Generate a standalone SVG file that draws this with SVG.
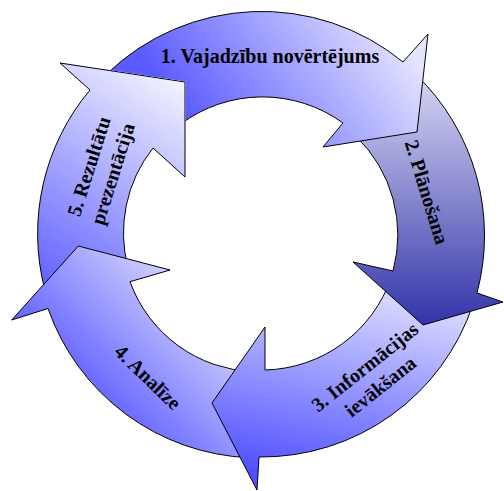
<svg xmlns="http://www.w3.org/2000/svg" width="504" height="491" viewBox="0 0 504 491">
<style>
.arr{stroke:#000;stroke-width:1;stroke-linejoin:miter}
.lbl{font-family:"Liberation Serif","Times New Roman",serif;font-weight:bold;font-size:20px;fill:#000;text-anchor:middle}
</style>
<defs>
<linearGradient id="g1" gradientUnits="userSpaceOnUse" x1="200" y1="140" x2="380" y2="10"><stop offset="0" stop-color="#5a5aff"/><stop offset="1" stop-color="#e4e4ff"/></linearGradient>
<linearGradient id="g2" gradientUnits="userSpaceOnUse" x1="0" y1="80" x2="0" y2="330"><stop offset="0" stop-color="#d4d4f2"/><stop offset="1" stop-color="#3030a8"/></linearGradient>
<linearGradient id="g3" gradientUnits="userSpaceOnUse" x1="330" y1="290" x2="290" y2="480"><stop offset="0" stop-color="#d4d4ff"/><stop offset="1" stop-color="#5050ff"/></linearGradient>
<linearGradient id="g4" gradientUnits="userSpaceOnUse" x1="60" y1="400" x2="190" y2="270"><stop offset="0" stop-color="#5050ff"/><stop offset="1" stop-color="#dcdcff"/></linearGradient>
<linearGradient id="g5" gradientUnits="userSpaceOnUse" x1="40" y1="280" x2="175" y2="80"><stop offset="0" stop-color="#6464ff"/><stop offset="1" stop-color="#f2f2ff"/></linearGradient>
<clipPath id="c1"><path clip-rule="evenodd" d="M0 0H504V491H0Z M59.5 62.5 L185.6 81.6 L185.6 177.5 L152.6 148.3 L89.6 90.4 Z"/></clipPath>
</defs>
<g id="arrow5">
<path class="arr" fill="url(#g5)" d="M44.6 288.9 A223 223 0 0 1 90 90 L60 63 L185 82 L185 177 L153 148 A137 137 0 0 0 128.1 268.1 Z"/>
</g>
<g id="arrow4">
<path class="arr" fill="url(#g4)" d="M249.3 457.7 A223 223 0 0 1 48 308.5 L11.7 320 L78.3 246 L170 270 L130 281.7 A137 137 0 0 0 253.8 371.8 Z"/>
</g>
<g id="arrow3">
<path class="arr" fill="url(#g3)" d="M473.1 303.9 A223 223 0 0 1 259 457 L257 490 L212 403 L265 327 L265 370 A137 137 0 0 0 391.3 277.3 Z"/>
</g>
<g id="arrow2">
<path class="arr" fill="url(#g2)" d="M415.9 74.6 A223 223 0 0 1 477 293 L503 302 L423 325 L353 262 L393 271 A137 137 0 0 0 356.2 136.5 Z"/>
</g>
<g id="arrow1" clip-path="url(#c1)">
<path class="arr" fill="url(#g1)" d="M106.1 74.6 A223 223 0 0 1 403 62 L428 34 L417 132 L323 147 L343 123 A137 137 0 0 0 180.5 124.2 Z"/>
</g>
<g id="labels">
<text class="lbl" x="270" y="63">1. Vajadzību novērtējums</text>
<g transform="translate(427,192) rotate(73)"><text class="lbl" x="0" y="7">2. Plānošana</text></g>
<g transform="translate(372.5,376.5) rotate(-38.5)"><text class="lbl" x="0" y="-5.5">3. Informācijas</text><text class="lbl" x="0" y="19.5">ievākšana</text></g>
<g transform="translate(148,377) rotate(44)"><text class="lbl" x="0" y="7">4. Analīze</text></g>
<g transform="translate(100.5,170) rotate(-72.4)"><text class="lbl" x="0" y="-5.5">5. Rezultātu</text><text class="lbl" x="0" y="19.5">prezentācija</text></g>
</g>
</svg>
